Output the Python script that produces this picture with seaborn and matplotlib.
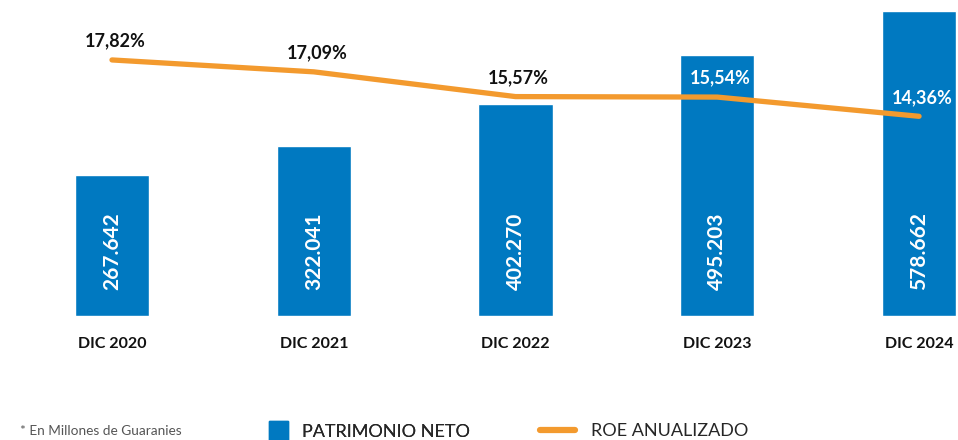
import numpy as np
import pandas as pd
import seaborn as sns
import matplotlib.pyplot as plt
from matplotlib.patches import Patch
from matplotlib.lines import Line2D

periodos = ['DIC 2020', 'DIC 2021', 'DIC 2022', 'DIC 2023', 'DIC 2024']
patrimonio = [267.642, 322.041, 402.270, 495.203, 578.662]
patrimonio_txt = ['267.642', '322.041', '402.270', '495.203', '578.662']
roe = [17.82, 17.09, 15.57, 15.54, 14.36]
roe_txt = ['17,82%', '17,09%', '15,57%', '15,54%', '14,36%']

azul = '#0079C1'
naranja = '#F39A2E'

sns.set_theme(style='white')
plt.rcParams['font.family'] = ['Lato', 'DejaVu Sans']

df = pd.DataFrame({'periodo': periodos, 'patrimonio': patrimonio, 'roe': roe})

fig = plt.figure(figsize=(9.58, 4.40), dpi=100)
ax = fig.add_axes([0, 0.2818, 1, 0.7182])
sns.barplot(data=df, x='periodo', y='patrimonio', color=azul, width=0.367,
            saturation=1, ax=ax)
ax.set_xlim(-0.555, 4.193)
ax.set_ylim(0, 600)
ax.set(xlabel=None, ylabel=None, yticks=[])
ax.tick_params(axis='x', length=0, pad=15)
for lab in ax.get_xticklabels():
    lab.set_fontweight('bold')
    lab.set_fontsize(11.5)
    lab.set_color('#111111')
sns.despine(ax=ax, left=True, bottom=True)

ax2 = ax.twinx()
sns.lineplot(data=df, x='periodo', y='roe', color=naranja, linewidth=3.8,
             sort=False, ax=ax2)
ax2.set_ylim(2.1, 21.5)
ax2.set(xlabel=None, ylabel=None, yticks=[])
sns.despine(ax=ax2, left=True, bottom=True, right=True)

# etiquetas de patrimonio dentro de las barras
for i, t in enumerate(patrimonio_txt):
    ax.annotate(t, (i, 0), xytext=(0, 26), textcoords='offset pixels',
                rotation=90, ha='center', va='bottom', color='white',
                fontsize=15, fontweight='bold')

# etiquetas del ROE
fig.canvas.draw()
for i, (v, t) in enumerate(zip(roe, roe_txt)):
    y_lab = ax2.transData.transform((i, v))[1] + 19
    y_bar = ax.transData.transform((i, patrimonio[i]))[1]
    col = 'white' if y_lab < y_bar - 8 else '#111111'
    ax2.annotate(t, (i, v), xytext=(3, 19), textcoords='offset pixels',
                 ha='center', va='center', color=col, fontsize=13,
                 fontweight='bold')

fig.text(0.021, 0.02, '* En Millones de Guaranies', fontsize=9.8, color='#555555',
         va='center', ha='left')
leg1 = fig.legend(handles=[Patch(color=azul)], labels=['PATRIMONIO NETO'],
                  loc='center left', bbox_to_anchor=(0.281, 0.02), frameon=False,
                  fontsize=13, handlelength=1.05, handleheight=1.3, handletextpad=0.75,
                  borderpad=0, borderaxespad=0)
fig.legend(handles=[Line2D([], [], color=naranja, linewidth=4.5)], labels=['ROE ANUALIZADO'],
           loc='center left', bbox_to_anchor=(0.564, 0.02), frameon=False,
           fontsize=13, handlelength=1.9, handletextpad=0.9,
           borderpad=0, borderaxespad=0)
fig.add_artist(leg1)

fig.savefig('out.png', dpi=100)
